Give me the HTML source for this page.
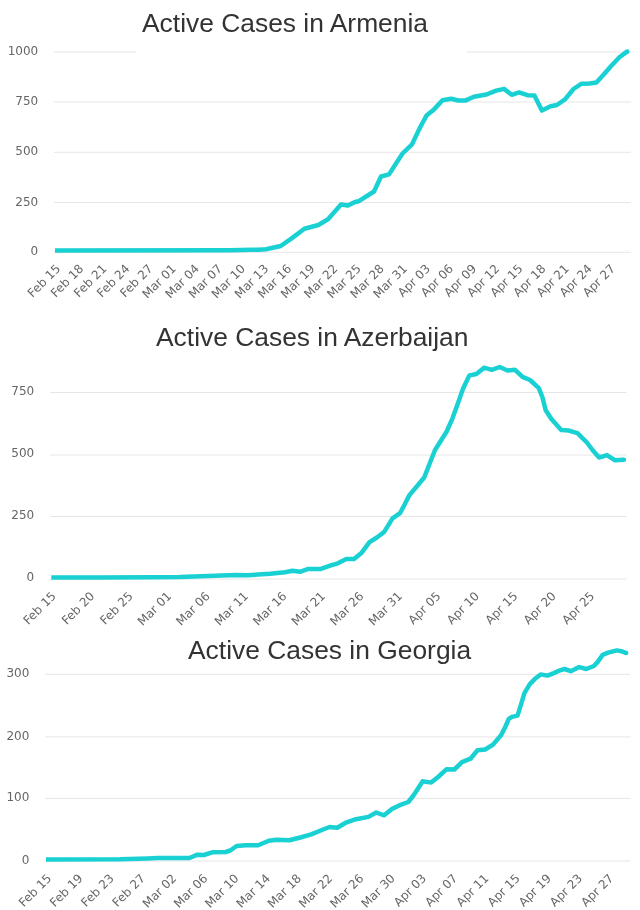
<!DOCTYPE html>
<html><head><meta charset="utf-8"><style>
html,body{margin:0;padding:0;background:#fff;width:640px;height:910px;overflow:hidden}
svg{display:block}
.yl{font-family:"DejaVu Sans",sans-serif;font-size:12px;fill:#666}
.xl{font-family:"DejaVu Sans",sans-serif;font-size:12px;fill:#666}
.tt{font-family:"Liberation Sans",sans-serif;font-size:26.4px;fill:#333}
</style></head><body>
<svg width="640" height="910" viewBox="0 0 640 910">
<line x1="54" y1="52" x2="631" y2="52" stroke="#e6e6e6" stroke-width="1"/>
<line x1="54" y1="102" x2="631" y2="102" stroke="#e6e6e6" stroke-width="1"/>
<line x1="54" y1="152.3" x2="631" y2="152.3" stroke="#e6e6e6" stroke-width="1"/>
<line x1="54" y1="202.5" x2="631" y2="202.5" stroke="#e6e6e6" stroke-width="1"/>
<line x1="54" y1="252.3" x2="631" y2="252.3" stroke="#e6e6e6" stroke-width="1"/>
<rect x="136" y="40" width="331" height="20" fill="#fff"/>
<text x="38.2" y="55.0" text-anchor="end" class="yl">1000</text>
<text x="38.2" y="105.0" text-anchor="end" class="yl">750</text>
<text x="38.2" y="155.3" text-anchor="end" class="yl">500</text>
<text x="38.2" y="205.5" text-anchor="end" class="yl">250</text>
<text x="38.2" y="255.3" text-anchor="end" class="yl">0</text>
<text transform="translate(61.1,269.4) rotate(-45)" text-anchor="end" class="xl">Feb 15</text>
<text transform="translate(84.2,269.4) rotate(-45)" text-anchor="end" class="xl">Feb 18</text>
<text transform="translate(107.3,269.4) rotate(-45)" text-anchor="end" class="xl">Feb 21</text>
<text transform="translate(130.4,269.4) rotate(-45)" text-anchor="end" class="xl">Feb 24</text>
<text transform="translate(153.5,269.4) rotate(-45)" text-anchor="end" class="xl">Feb 27</text>
<text transform="translate(176.7,269.4) rotate(-45)" text-anchor="end" class="xl">Mar 01</text>
<text transform="translate(199.8,269.4) rotate(-45)" text-anchor="end" class="xl">Mar 04</text>
<text transform="translate(222.9,269.4) rotate(-45)" text-anchor="end" class="xl">Mar 07</text>
<text transform="translate(246.0,269.4) rotate(-45)" text-anchor="end" class="xl">Mar 10</text>
<text transform="translate(269.1,269.4) rotate(-45)" text-anchor="end" class="xl">Mar 13</text>
<text transform="translate(292.2,269.4) rotate(-45)" text-anchor="end" class="xl">Mar 16</text>
<text transform="translate(315.3,269.4) rotate(-45)" text-anchor="end" class="xl">Mar 19</text>
<text transform="translate(338.4,269.4) rotate(-45)" text-anchor="end" class="xl">Mar 22</text>
<text transform="translate(361.6,269.4) rotate(-45)" text-anchor="end" class="xl">Mar 25</text>
<text transform="translate(384.7,269.4) rotate(-45)" text-anchor="end" class="xl">Mar 28</text>
<text transform="translate(407.8,269.4) rotate(-45)" text-anchor="end" class="xl">Mar 31</text>
<text transform="translate(430.9,269.4) rotate(-45)" text-anchor="end" class="xl">Apr 03</text>
<text transform="translate(454.0,269.4) rotate(-45)" text-anchor="end" class="xl">Apr 06</text>
<text transform="translate(477.1,269.4) rotate(-45)" text-anchor="end" class="xl">Apr 09</text>
<text transform="translate(500.2,269.4) rotate(-45)" text-anchor="end" class="xl">Apr 12</text>
<text transform="translate(523.3,269.4) rotate(-45)" text-anchor="end" class="xl">Apr 15</text>
<text transform="translate(546.5,269.4) rotate(-45)" text-anchor="end" class="xl">Apr 18</text>
<text transform="translate(569.6,269.4) rotate(-45)" text-anchor="end" class="xl">Apr 21</text>
<text transform="translate(592.7,269.4) rotate(-45)" text-anchor="end" class="xl">Apr 24</text>
<text transform="translate(615.8,269.4) rotate(-45)" text-anchor="end" class="xl">Apr 27</text>
<polyline points="55.0,250.5 230.0,250.2 252.0,249.8 258.4,249.8 266.0,249.2 280.7,246.0 291.3,238.6 304.4,228.7 318.4,225.0 327.8,219.4 341.0,204.6 348.0,205.6 355.0,202.0 358.8,201.2 374.0,191.5 381.0,176.5 389.0,174.4 402.5,153.5 412.0,144.4 420.0,127.5 426.5,115.6 434.0,109.4 442.5,100.3 451.2,98.8 458.0,100.5 465.3,100.6 473.8,96.8 486.4,94.5 496.2,90.6 504.0,88.9 511.7,94.8 519.0,92.4 527.5,95.2 534.4,95.6 541.9,110.6 550.6,106.2 556.9,105.0 565.0,99.4 573.5,89.0 581.2,83.8 589.4,83.6 596.4,82.6 604.4,73.8 610.9,66.2 619.4,57.3 627.3,51.4" fill="none" stroke="#19d0d3" stroke-width="4.5" stroke-linejoin="round" stroke-linecap="butt"/>
<circle cx="627.3" cy="51.4" r="2.25" fill="#19d0d3"/>
<text x="142" y="31.6" class="tt">Active Cases in Armenia</text>
<line x1="50" y1="392.5" x2="626.5" y2="392.5" stroke="#e6e6e6" stroke-width="1"/>
<line x1="50" y1="455" x2="626.5" y2="455" stroke="#e6e6e6" stroke-width="1"/>
<line x1="50" y1="516.5" x2="626.5" y2="516.5" stroke="#e6e6e6" stroke-width="1"/>
<line x1="50" y1="579" x2="626.5" y2="579" stroke="#e6e6e6" stroke-width="1"/>
<text x="34.2" y="394.5" text-anchor="end" class="yl">750</text>
<text x="34.2" y="457.0" text-anchor="end" class="yl">500</text>
<text x="34.2" y="518.5" text-anchor="end" class="yl">250</text>
<text x="34.2" y="581.0" text-anchor="end" class="yl">0</text>
<text transform="translate(56.7,596.8) rotate(-45)" text-anchor="end" class="xl">Feb 15</text>
<text transform="translate(95.2,596.8) rotate(-45)" text-anchor="end" class="xl">Feb 20</text>
<text transform="translate(133.6,596.8) rotate(-45)" text-anchor="end" class="xl">Feb 25</text>
<text transform="translate(172.1,596.8) rotate(-45)" text-anchor="end" class="xl">Mar 01</text>
<text transform="translate(210.6,596.8) rotate(-45)" text-anchor="end" class="xl">Mar 06</text>
<text transform="translate(249.0,596.8) rotate(-45)" text-anchor="end" class="xl">Mar 11</text>
<text transform="translate(287.5,596.8) rotate(-45)" text-anchor="end" class="xl">Mar 16</text>
<text transform="translate(326.0,596.8) rotate(-45)" text-anchor="end" class="xl">Mar 21</text>
<text transform="translate(364.4,596.8) rotate(-45)" text-anchor="end" class="xl">Mar 26</text>
<text transform="translate(402.9,596.8) rotate(-45)" text-anchor="end" class="xl">Mar 31</text>
<text transform="translate(441.3,596.8) rotate(-45)" text-anchor="end" class="xl">Apr 05</text>
<text transform="translate(479.8,596.8) rotate(-45)" text-anchor="end" class="xl">Apr 10</text>
<text transform="translate(518.3,596.8) rotate(-45)" text-anchor="end" class="xl">Apr 15</text>
<text transform="translate(556.7,596.8) rotate(-45)" text-anchor="end" class="xl">Apr 20</text>
<text transform="translate(595.2,596.8) rotate(-45)" text-anchor="end" class="xl">Apr 25</text>
<polyline points="51.3,577.6 100.0,577.5 150.0,577.2 180.0,577.0 208.0,575.9 236.3,574.9 247.5,575.3 270.0,573.8 285.0,572.3 292.6,570.8 300.0,571.8 308.3,568.9 320.9,568.9 330.8,565.4 337.8,563.3 346.3,559.1 354.0,559.1 361.7,552.7 369.5,542.2 376.9,537.5 384.4,531.7 392.5,518.4 400.0,513.2 404.6,504.6 409.2,495.4 416.1,487.3 424.2,477.5 435.0,450.0 446.7,431.5 452.5,418.3 458.1,402.8 463.0,388.8 469.4,375.4 476.4,374.0 484.1,367.7 491.9,369.8 499.6,367.0 507.4,370.5 515.0,369.8 522.5,376.9 530.0,380.0 538.8,388.1 542.5,397.5 545.6,410.0 551.2,418.8 561.2,430.0 568.8,430.6 577.5,433.1 582.2,437.8 586.9,442.5 592.5,450.0 599.1,457.5 607.0,455.1 615.0,460.3 623.9,459.8" fill="none" stroke="#19d0d3" stroke-width="4.5" stroke-linejoin="round" stroke-linecap="butt"/>
<circle cx="623.9" cy="459.8" r="2.25" fill="#19d0d3"/>
<text x="156" y="345.5" class="tt">Active Cases in Azerbaijan</text>
<line x1="45" y1="674.3" x2="630.5" y2="674.3" stroke="#e6e6e6" stroke-width="1"/>
<line x1="45" y1="736.9" x2="630.5" y2="736.9" stroke="#e6e6e6" stroke-width="1"/>
<line x1="45" y1="798.4" x2="630.5" y2="798.4" stroke="#e6e6e6" stroke-width="1"/>
<line x1="45" y1="861" x2="630.5" y2="861" stroke="#e6e6e6" stroke-width="1"/>
<text x="29.4" y="677.3" text-anchor="end" class="yl">300</text>
<text x="29.4" y="739.9" text-anchor="end" class="yl">200</text>
<text x="29.4" y="801.4" text-anchor="end" class="yl">100</text>
<text x="29.4" y="864.0" text-anchor="end" class="yl">0</text>
<text transform="translate(52.2,879) rotate(-45)" text-anchor="end" class="xl">Feb 15</text>
<text transform="translate(83.4,879) rotate(-45)" text-anchor="end" class="xl">Feb 19</text>
<text transform="translate(114.6,879) rotate(-45)" text-anchor="end" class="xl">Feb 23</text>
<text transform="translate(145.9,879) rotate(-45)" text-anchor="end" class="xl">Feb 27</text>
<text transform="translate(177.1,879) rotate(-45)" text-anchor="end" class="xl">Mar 02</text>
<text transform="translate(208.3,879) rotate(-45)" text-anchor="end" class="xl">Mar 06</text>
<text transform="translate(239.5,879) rotate(-45)" text-anchor="end" class="xl">Mar 10</text>
<text transform="translate(270.8,879) rotate(-45)" text-anchor="end" class="xl">Mar 14</text>
<text transform="translate(302.0,879) rotate(-45)" text-anchor="end" class="xl">Mar 18</text>
<text transform="translate(333.2,879) rotate(-45)" text-anchor="end" class="xl">Mar 22</text>
<text transform="translate(364.4,879) rotate(-45)" text-anchor="end" class="xl">Mar 26</text>
<text transform="translate(395.7,879) rotate(-45)" text-anchor="end" class="xl">Mar 30</text>
<text transform="translate(426.9,879) rotate(-45)" text-anchor="end" class="xl">Apr 03</text>
<text transform="translate(458.1,879) rotate(-45)" text-anchor="end" class="xl">Apr 07</text>
<text transform="translate(489.3,879) rotate(-45)" text-anchor="end" class="xl">Apr 11</text>
<text transform="translate(520.6,879) rotate(-45)" text-anchor="end" class="xl">Apr 15</text>
<text transform="translate(551.8,879) rotate(-45)" text-anchor="end" class="xl">Apr 19</text>
<text transform="translate(583.0,879) rotate(-45)" text-anchor="end" class="xl">Apr 23</text>
<text transform="translate(614.2,879) rotate(-45)" text-anchor="end" class="xl">Apr 27</text>
<polyline points="46.0,859.6 120.0,859.3 148.1,858.4 157.5,858.0 189.4,858.0 197.5,854.7 203.8,855.0 213.0,852.2 225.6,852.0 230.3,850.5 236.6,846.0 245.6,845.3 258.1,845.3 268.8,840.8 276.6,839.7 289.4,840.3 300.3,837.5 311.2,834.4 320.6,830.5 329.4,827.0 337.2,827.8 346.6,822.3 355.9,819.2 368.4,816.9 376.2,812.5 384.1,815.3 391.9,809.1 399.7,805.2 408.3,802.0 413.8,795.0 422.7,781.2 431.1,782.6 438.1,777.0 446.6,769.2 454.3,769.5 462.0,762.2 470.5,758.7 477.5,750.2 485.2,749.5 493.0,744.6 501.2,735.0 505.0,727.5 508.8,718.8 511.9,716.9 517.5,715.6 521.2,703.8 524.4,693.1 530.0,683.8 535.0,678.8 540.6,674.4 547.5,675.6 553.8,673.1 560.0,670.3 564.4,669.0 570.9,671.2 579.1,667.1 586.3,669.0 593.9,666.0 597.7,661.9 602.7,654.8 608.1,652.6 616.9,650.4 622.4,651.5 626.2,653.1" fill="none" stroke="#19d0d3" stroke-width="4.5" stroke-linejoin="round" stroke-linecap="butt"/>
<circle cx="626.2" cy="653.1" r="2.25" fill="#19d0d3"/>
<text x="188" y="659.4" class="tt">Active Cases in Georgia</text>
</svg>
</body></html>
